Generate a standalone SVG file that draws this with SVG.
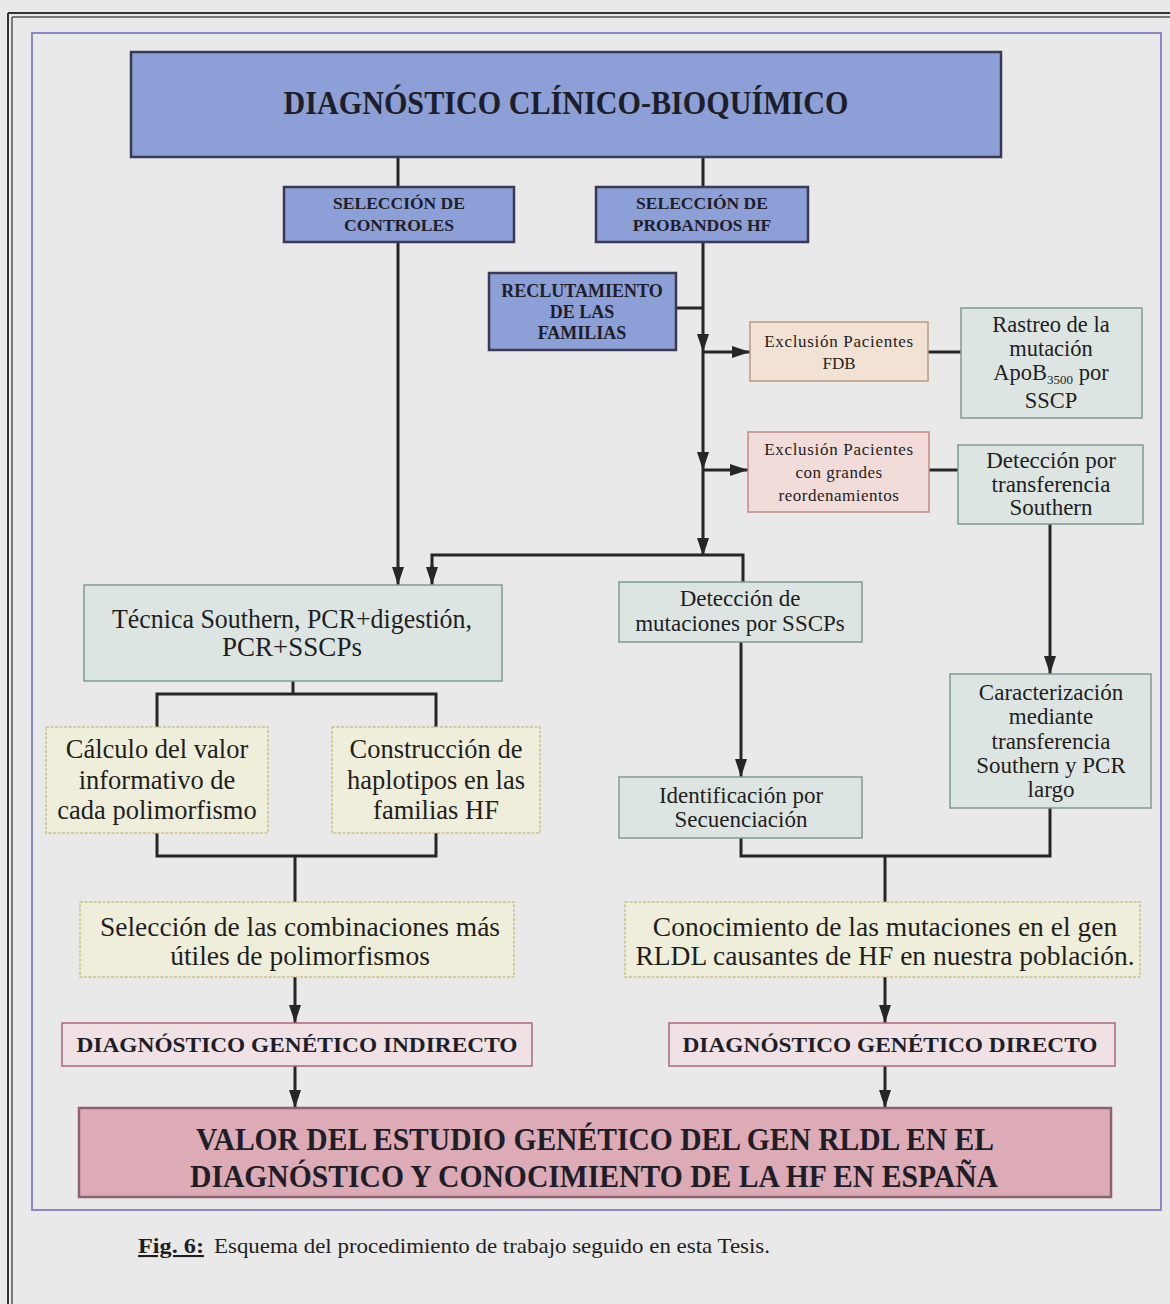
<svg xmlns="http://www.w3.org/2000/svg" width="1170" height="1304" viewBox="0 0 1170 1304">
<defs>
<marker id="arr" viewBox="0 0 18 12" refX="18" refY="6" markerWidth="18" markerHeight="12" markerUnits="userSpaceOnUse" orient="auto">
<path d="M0,0 L18,6 L0,12 z" fill="#262626"/>
</marker>
</defs>
<style>
.blue{fill:#8c9fd6;stroke:#3a3a55;stroke-width:2.5}
.peach{fill:#f1e2d3;stroke:#b89a86;stroke-width:1.5}
.pink{fill:#f1dcda;stroke:#c08a86;stroke-width:1.5}
.grn{fill:#dde5e2;stroke:#7f9a96;stroke-width:1.5}
.yel{fill:#efeeda;stroke:#c9c28a;stroke-width:1.5;stroke-dasharray:3 1.5}
.dg{fill:#efe1e4;stroke:#a8687c;stroke-width:1.5}
.val{fill:#dcabb6;stroke:#8e6070;stroke-width:2.5}
.b{font-family:"Liberation Serif",serif;font-weight:bold;fill:#1e1e28;text-anchor:middle}
.r{font-family:"Liberation Serif",serif;fill:#1e1e1e;text-anchor:middle}
.ln{stroke:#262626;stroke-width:3;fill:none}
</style>
<rect width="1170" height="1304" fill="#e9e9e9"/>
<g id="frame" fill="none">
<line x1="8" y1="13" x2="1170" y2="13" stroke="#333" stroke-width="2"/>
<line x1="12" y1="17" x2="1170" y2="17" stroke="#555" stroke-width="1.5"/>
<line x1="8" y1="13" x2="8" y2="1304" stroke="#333" stroke-width="2"/>
<line x1="12" y1="17" x2="12" y2="1304" stroke="#555" stroke-width="1.5"/>
<rect x="32" y="33" width="1129" height="1177" stroke="#8a88c6" stroke-width="2"/>
</g>
<g id="connectors">
<line class="ln" x1="398" y1="157" x2="398" y2="187"/>
<line class="ln" x1="703" y1="157" x2="703" y2="187"/>
<line class="ln" x1="398" y1="242" x2="398" y2="585" marker-end="url(#arr)"/>
<line class="ln" x1="703" y1="242" x2="703" y2="352" marker-end="url(#arr)"/>
<line class="ln" x1="703" y1="352" x2="703" y2="470" marker-end="url(#arr)"/>
<line class="ln" x1="703" y1="470" x2="703" y2="556" marker-end="url(#arr)"/>
<line class="ln" x1="676" y1="308" x2="703" y2="308"/>
<line class="ln" x1="703" y1="352" x2="750" y2="352" marker-end="url(#arr)"/>
<line class="ln" x1="703" y1="470" x2="748" y2="470" marker-end="url(#arr)"/>
<line class="ln" x1="928" y1="352" x2="961" y2="352"/>
<line class="ln" x1="929" y1="470" x2="958" y2="470"/>
<polyline class="ln" points="432,570 432,555 743,555 743,582"/>
<line class="ln" x1="432" y1="565" x2="432" y2="585" marker-end="url(#arr)"/>
<line class="ln" x1="1050" y1="524" x2="1050" y2="674" marker-end="url(#arr)"/>
<line class="ln" x1="293" y1="681" x2="293" y2="694"/>
<polyline class="ln" points="157,727 157,694 436,694 436,727"/>
<line class="ln" x1="741" y1="642" x2="741" y2="777" marker-end="url(#arr)"/>
<polyline class="ln" points="157,833 157,856 436,856 436,833"/>
<line class="ln" x1="295" y1="856" x2="295" y2="902"/>
<polyline class="ln" points="741,838 741,856 1050,856 1050,808"/>
<line class="ln" x1="885" y1="856" x2="885" y2="902"/>
<line class="ln" x1="295" y1="977" x2="295" y2="1023" marker-end="url(#arr)"/>
<line class="ln" x1="885" y1="977" x2="885" y2="1023" marker-end="url(#arr)"/>
<line class="ln" x1="295" y1="1066" x2="295" y2="1108" marker-end="url(#arr)"/>
<line class="ln" x1="885" y1="1066" x2="885" y2="1108" marker-end="url(#arr)"/>
</g>
<g id="n-clinico">
<rect class="blue" x="131" y="52" width="870" height="105"/>
<text class="b" x="566" y="114" font-size="34" textLength="565" lengthAdjust="spacingAndGlyphs">DIAGNÓSTICO   CLÍNICO-BIOQUÍMICO</text>
</g>
<g id="n-controles">
<rect class="blue" x="284" y="187" width="230" height="55"/>
<text class="b" x="399" y="209" font-size="17.5">SELECCIÓN DE</text>
<text class="b" x="399" y="231" font-size="17.5">CONTROLES</text>
</g>
<g id="n-probandos">
<rect class="blue" x="596" y="187" width="212" height="55"/>
<text class="b" x="702" y="209" font-size="17.5">SELECCIÓN DE</text>
<text class="b" x="702" y="231" font-size="17.5">PROBANDOS HF</text>
</g>
<g id="n-reclutamiento">
<rect class="blue" x="489" y="273" width="187" height="77"/>
<text class="b" x="582" y="297" font-size="18">RECLUTAMIENTO</text>
<text class="b" x="582" y="318" font-size="18">DE LAS</text>
<text class="b" x="582" y="339" font-size="18">FAMILIAS</text>
</g>
<g id="n-fdb">
<rect class="peach" x="750" y="322" width="178" height="59"/>
<text class="r" x="839" y="347" font-size="17" letter-spacing="0.7">Exclusión Pacientes</text>
<text class="r" x="839" y="369" font-size="17">FDB</text>
</g>
<g id="n-grandes">
<rect class="pink" x="748" y="432" width="181" height="80"/>
<text class="r" x="839" y="455" font-size="17" letter-spacing="0.7">Exclusión Pacientes</text>
<text class="r" x="839" y="478" font-size="17" letter-spacing="0.5">con grandes</text>
<text class="r" x="839" y="501" font-size="17" letter-spacing="0.5">reordenamientos</text>
</g>
<g id="n-rastreo">
<rect class="grn" x="961" y="308" width="181" height="110"/>
<text class="r" x="1051" y="332" font-size="22.5">Rastreo de la</text>
<text class="r" x="1051" y="356" font-size="22.5">mutación</text>
<text class="r" x="1051" y="380" font-size="22.5">ApoB<tspan font-size="13" dy="4">3500</tspan><tspan dy="-4"> por</tspan></text>
<text class="r" x="1051" y="408" font-size="22.5">SSCP</text>
</g>
<g id="n-deteccion-southern">
<rect class="grn" x="958" y="445" width="185" height="79"/>
<text class="r" x="1051" y="468" font-size="23">Detección por</text>
<text class="r" x="1051" y="492" font-size="23">transferencia</text>
<text class="r" x="1051" y="515" font-size="23">Southern</text>
</g>
<g id="n-tecnica">
<rect class="grn" x="84" y="585" width="418" height="96"/>
<text class="r" x="292" y="628" font-size="27" textLength="360" lengthAdjust="spacingAndGlyphs">Técnica Southern, PCR+digestión,</text>
<text class="r" x="292" y="656" font-size="27">PCR+SSCPs</text>
</g>
<g id="n-deteccion-sscp">
<rect class="grn" x="619" y="582" width="243" height="60"/>
<text class="r" x="740" y="606" font-size="23">Detección de</text>
<text class="r" x="740" y="631" font-size="23">mutaciones por SSCPs</text>
</g>
<g id="n-calculo">
<rect class="yel" x="46" y="727" width="222" height="106"/>
<text class="r" x="157" y="758" font-size="26.5">Cálculo del valor</text>
<text class="r" x="157" y="789" font-size="26.5">informativo de</text>
<text class="r" x="157" y="819" font-size="26.5">cada polimorfismo</text>
</g>
<g id="n-construccion">
<rect class="yel" x="332" y="727" width="208" height="106"/>
<text class="r" x="436" y="758" font-size="26.5">Construcción de</text>
<text class="r" x="436" y="789" font-size="26.5">haplotipos en las</text>
<text class="r" x="436" y="819" font-size="26.5">familias HF</text>
</g>
<g id="n-identificacion">
<rect class="grn" x="619" y="777" width="243" height="61"/>
<text class="r" x="741" y="803" font-size="23">Identificación por</text>
<text class="r" x="741" y="827" font-size="23">Secuenciación</text>
</g>
<g id="n-caracterizacion">
<rect class="grn" x="950" y="674" width="201" height="134"/>
<text class="r" x="1051" y="700" font-size="23">Caracterización</text>
<text class="r" x="1051" y="724" font-size="23">mediante</text>
<text class="r" x="1051" y="749" font-size="23">transferencia</text>
<text class="r" x="1051" y="773" font-size="23">Southern y PCR</text>
<text class="r" x="1051" y="797" font-size="23">largo</text>
</g>
<g id="n-seleccion">
<rect class="yel" x="80" y="902" width="434" height="75"/>
<text class="r" x="300" y="936" font-size="27.5">Selección de las combinaciones más</text>
<text class="r" x="300" y="965" font-size="27.5">útiles de polimorfismos</text>
</g>
<g id="n-conocimiento">
<rect class="yel" x="625" y="902" width="515" height="75"/>
<text class="r" x="885" y="936" font-size="27.5">Conocimiento de las mutaciones en el gen</text>
<text class="r" x="885" y="965" font-size="27.5">RLDL causantes de HF en nuestra población.</text>
</g>
<g id="n-indirecto">
<rect class="dg" x="62" y="1023" width="470" height="43"/>
<text class="b" x="297" y="1052" font-size="22" textLength="441" lengthAdjust="spacingAndGlyphs">DIAGNÓSTICO  GENÉTICO  INDIRECTO</text>
</g>
<g id="n-directo">
<rect class="dg" x="669" y="1023" width="446" height="43"/>
<text class="b" x="890" y="1052" font-size="22" textLength="415" lengthAdjust="spacingAndGlyphs">DIAGNÓSTICO  GENÉTICO  DIRECTO</text>
</g>
<g id="n-valor">
<rect class="val" x="79" y="1108" width="1032" height="89"/>
<text class="b" x="595" y="1150" font-size="31" textLength="798" lengthAdjust="spacingAndGlyphs">VALOR DEL ESTUDIO GENÉTICO DEL GEN RLDL EN EL</text>
<text class="b" x="594" y="1187" font-size="31" textLength="808" lengthAdjust="spacingAndGlyphs">DIAGNÓSTICO Y CONOCIMIENTO DE LA HF EN ESPAÑA</text>
</g>
<g id="caption" font-family="'Liberation Serif',serif" fill="#1e1e1e">
<text x="138" y="1253" font-size="21" font-weight="bold" text-decoration="underline" textLength="66" lengthAdjust="spacingAndGlyphs">Fig. 6:</text>
<text x="214" y="1253" font-size="21" textLength="556" lengthAdjust="spacingAndGlyphs">Esquema del procedimiento de trabajo seguido en esta Tesis.</text>
</g>
</svg>
